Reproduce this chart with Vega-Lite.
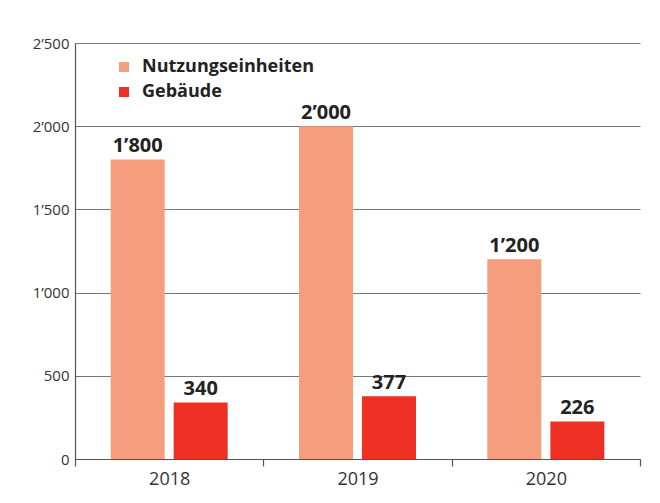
{
  "$schema": "https://vega.github.io/schema/vega-lite/v6.json",
  "width": 565,
  "height": 416,
  "autosize": {"type": "none"},
  "padding": {"left": 75, "top": 43, "right": 20, "bottom": 44},
  "background": "white",
  "config": {
    "locale": {"number": {"decimal": ".", "thousands": "’", "grouping": [3], "currency": ["", ""]}},
    "view": {"stroke": null},
    "font": "Open Sans"
  },
  "data": {
    "values": [
      {"year": "2018", "series": "Nutzungseinheiten", "value": 1800},
      {"year": "2018", "series": "Gebäude", "value": 340},
      {"year": "2019", "series": "Nutzungseinheiten", "value": 2000},
      {"year": "2019", "series": "Gebäude", "value": 377},
      {"year": "2020", "series": "Nutzungseinheiten", "value": 1200},
      {"year": "2020", "series": "Gebäude", "value": 226}
    ]
  },
  "encoding": {
    "x": {
      "field": "year", "type": "nominal", "title": null,
      "scale": {"paddingInner": 0, "paddingOuter": 0},
      "axis": {
        "labelAngle": 0, "labelFontSize": 18, "labelColor": "#333", "labelFont": "Open Sans",
        "tickBand": "extent", "tickSize": 7, "tickColor": "#555", "tickWidth": 1.2,
        "domainColor": "#555", "domainWidth": 1.2, "labelPadding": 4, "grid": false
      }
    },
    "xOffset": {
      "field": "series", "type": "nominal",
      "sort": ["Nutzungseinheiten", "Gebäude"],
      "scale": {"paddingInner": 0.143, "paddingOuter": 0.566}
    },
    "y": {
      "field": "value", "type": "quantitative", "title": null,
      "scale": {"domain": [0, 2500], "nice": false},
      "axis": {
        "values": [0, 500, 1000, 1500, 2000, 2500], "format": ",d",
        "labelFontSize": 15, "labelColor": "#333", "labelFont": "Open Sans", "labelPadding": 6,
        "ticks": false, "domainColor": "#555", "domainWidth": 1.2,
        "grid": true, "gridColor": "#777", "gridWidth": 1.2
      }
    }
  },
  "layer": [
    {
      "mark": {"type": "bar"},
      "encoding": {
        "color": {
          "field": "series", "type": "nominal",
          "scale": {"domain": ["Nutzungseinheiten", "Gebäude"], "range": ["#F59D7C", "#EE3024"]},
          "legend": {
            "title": null, "orient": "none", "legendX": 40, "legendY": 15,
            "padding": 0, "symbolType": "square", "symbolSize": 100,
            "symbolStrokeWidth": 0, "symbolOpacity": 1, "labelLimit": 0,
            "labelFontSize": 18, "labelFontWeight": "bold", "labelColor": "#222",
            "labelFont": "Open Sans", "labelOffset": 9, "rowPadding": 7
          }
        }
      }
    },
    {
      "mark": {"type": "text", "baseline": "alphabetic", "dy": -7, "fontSize": 20, "fontWeight": "bold", "color": "#222", "font": "Open Sans"},
      "encoding": {
        "text": {"field": "value", "type": "quantitative", "format": ",d"}
      }
    }
  ]
}
